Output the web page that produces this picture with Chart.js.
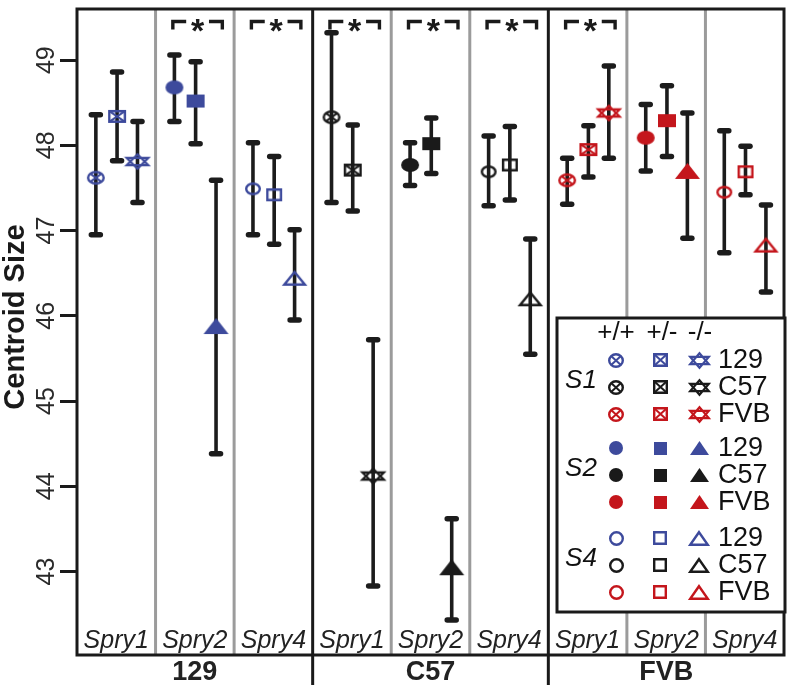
<!DOCTYPE html>
<html><head><meta charset="utf-8">
<script src="https://cdn.jsdelivr.net/npm/chart.js@4.4.1/dist/chart.umd.min.js"></script>
<style>html,body{margin:0;padding:0;background:#fff}#wrap{width:793px;height:685px;position:relative}canvas{display:block}</style>
</head><body><div id="wrap"><canvas id="c" width="793" height="685"></canvas></div>
<script>
// ---- data ----
const strains = ['129', 'C57', 'FVB'];
const genes = ['Spry1', 'Spry2', 'Spry4'];
const genotypes = ['+/+', '+/-', '-/-'];
const geneTags = ['S1', 'S2', 'S4'];
const yTicks = [43, 44, 45, 46, 47, 48, 49];
// order: Spry1 (+/+, +/-, -/-), Spry2 (...), Spry4 (...)
const mean129  = [47.62, 48.34, 47.81, 48.68, 48.52, 45.88, 47.49, 47.42, 46.44];
const upper129 = [48.36, 48.86, 48.28, 49.06, 48.98, 47.59, 48.03, 47.87, 47.01];
const lower129 = [46.95, 47.82, 47.33, 48.28, 48.02, 44.38, 46.95, 46.84, 45.95];
const meanC57  = [48.33, 47.71, 44.12, 47.77, 48.02, 43.05, 47.69, 47.77, 46.20];
const upperC57 = [49.32, 48.24, 45.72, 48.03, 48.32, 43.62, 48.11, 48.22, 46.90];
const lowerC57 = [47.33, 47.23, 42.83, 47.53, 47.67, 42.43, 47.29, 47.36, 45.55];
const meanFVB  = [47.59, 47.95, 48.38, 48.09, 48.29, 47.70, 47.45, 47.69, 46.83];
const upperFVB = [47.85, 48.23, 48.93, 48.48, 48.70, 48.38, 48.17, 47.99, 47.30];
const lowerFVB = [47.31, 47.63, 47.85, 47.70, 47.87, 46.91, 46.74, 47.42, 46.28];
const sigPanels = [1, 2, 3, 4, 5, 6];

// ---- styles ----
const FONT = "'Liberation Sans', Arial, Helvetica, sans-serif";
const colors = ['#3d4a9c', '#1a1a1a', '#c4161c'];
const shapesByGene = [['xcircle', 'xsquare', 'star'], ['fcircle', 'fsquare', 'ftri'], ['ocircle', 'osquare', 'otri']];
const plotSize = {xcircle:[18,14], xsquare:[18,13], star:[24,17], fcircle:[18,14], fsquare:[18,13], ftri:[25,16], ocircle:[16,13], osquare:[16,13], otri:[23,15]};
const legSize  = {xcircle:[16,15], xsquare:[15,14], star:[21,17], fcircle:[14,14], fsquare:[13,13], ftri:[19,14], ocircle:[15,15], osquare:[14,14], otri:[20,15]};
const offsets = [0.24, 0.51, 0.77];

function makeMarker(shape, color, w, h) {
  const pad = 2, lw = 2.4;
  const c = document.createElement('canvas');
  c.width = Math.round(w + 2 * pad); c.height = Math.round(h + 2 * pad);
  const g = c.getContext('2d');
  g.strokeStyle = color; g.fillStyle = color; g.lineWidth = lw; g.lineJoin = 'miter';
  const cx = c.width / 2, cy = c.height / 2, rx = w / 2, ry = h / 2;
  const ix = rx - lw / 2, iy = ry - lw / 2;
  g.beginPath();
  switch (shape) {
    case 'fcircle': g.ellipse(cx, cy, rx, ry, 0, 0, Math.PI * 2); g.fill(); break;
    case 'ocircle': g.ellipse(cx, cy, ix, iy, 0, 0, Math.PI * 2); g.stroke(); break;
    case 'fsquare': g.rect(cx - rx, cy - ry, w, h); g.fill(); break;
    case 'osquare': g.rect(cx - ix, cy - iy, 2 * ix, 2 * iy); g.stroke(); break;
    case 'ftri': g.moveTo(cx, cy - ry); g.lineTo(cx + rx, cy + ry); g.lineTo(cx - rx, cy + ry); g.closePath(); g.fill(); break;
    case 'otri': g.moveTo(cx, cy - iy); g.lineTo(cx + ix, cy + iy); g.lineTo(cx - ix, cy + iy); g.closePath(); g.stroke(); break;
    case 'xcircle':
      g.ellipse(cx, cy, ix, iy, 0, 0, Math.PI * 2); g.stroke();
      g.beginPath(); g.lineWidth = 2;
      g.moveTo(cx - ix * 0.72, cy - iy * 0.72); g.lineTo(cx + ix * 0.72, cy + iy * 0.72);
      g.moveTo(cx + ix * 0.72, cy - iy * 0.72); g.lineTo(cx - ix * 0.72, cy + iy * 0.72); g.stroke(); break;
    case 'xsquare':
      g.rect(cx - ix, cy - iy, 2 * ix, 2 * iy); g.stroke();
      g.beginPath(); g.lineWidth = 2;
      g.moveTo(cx - ix, cy - iy); g.lineTo(cx + ix, cy + iy);
      g.moveTo(cx + ix, cy - iy); g.lineTo(cx - ix, cy + iy); g.stroke(); break;
    case 'star':
      g.lineWidth = 2.2;
      g.moveTo(cx, cy - iy); g.lineTo(cx + ix, cy + iy * 0.5); g.lineTo(cx - ix, cy + iy * 0.5); g.closePath();
      g.moveTo(cx, cy + iy); g.lineTo(cx + ix, cy - iy * 0.5); g.lineTo(cx - ix, cy - iy * 0.5); g.closePath();
      g.stroke(); break;
  }
  return c;
}

const plotMarkers = colors.map(col => shapesByGene.map(row => row.map(s => makeMarker(s, col, plotSize[s][0], plotSize[s][1]))));
const legMarkers  = colors.map(col => shapesByGene.map(row => row.map(s => makeMarker(s, col, legSize[s][0], legSize[s][1]))));

function buildDataset(si, means, ups, lows) {
  const data = [], styles = [];
  for (let g = 0; g < 3; g++) for (let k = 0; k < 3; k++) {
    const i = g * 3 + k;
    data.push({x: si * 3 + g + offsets[k], y: means[i], hi: ups[i], lo: lows[i]});
    styles.push(plotMarkers[si][g][k]);
  }
  return {label: strains[si], data, pointStyle: styles, pointRadius: 8, backgroundColor: colors[si], borderColor: colors[si]};
}

// ---- plugins ----
function line(ctx, x1, y1, x2, y2) { ctx.beginPath(); ctx.moveTo(x1, y1); ctx.lineTo(x2, y2); ctx.stroke(); }

const panelsPlugin = {
  id: 'panels',
  beforeDatasetsDraw(chart) {
    const {ctx, chartArea: a, scales: {x, y}} = chart;
    ctx.save();
    ctx.strokeStyle = '#9b9b9b'; ctx.lineWidth = 3;
    for (let p = 1; p < 9; p++) { if (p % 3 === 0) continue; const px = x.getPixelForValue(p); line(ctx, px, a.top, px, a.bottom); }
    ctx.strokeStyle = '#1a1a1a'; ctx.lineWidth = 3;
    [3, 6].forEach(p => { const px = x.getPixelForValue(p); line(ctx, px, a.top, px, chart.height); });
    ctx.strokeRect(a.left, a.top, a.right - a.left, a.bottom - a.top);
    // significance brackets
    ctx.lineWidth = 3.4; ctx.lineCap = 'butt';
    const by = a.top + 12.5, bd = a.top + 20.5;
    ctx.fillStyle = '#1a1a1a';
    sigPanels.forEach(p => {
      const l0 = x.getPixelForValue(p + 0.22), l1 = x.getPixelForValue(p + 0.39);
      const r0 = x.getPixelForValue(p + 0.68), r1 = x.getPixelForValue(p + 0.85);
      ctx.beginPath(); ctx.moveTo(l0, bd); ctx.lineTo(l0, by); ctx.lineTo(l1, by); ctx.stroke();
      ctx.beginPath(); ctx.moveTo(r0, by); ctx.lineTo(r1, by); ctx.lineTo(r1, bd); ctx.stroke();
      ctx.font = 'bold 34px ' + FONT; ctx.textAlign = 'center'; ctx.textBaseline = 'alphabetic';
      ctx.fillText('*', x.getPixelForValue(p + 0.535), a.top + 33);
    });
    // gene labels inside panels
    ctx.fillStyle = '#222'; ctx.font = 'italic 25px ' + FONT; ctx.textAlign = 'center'; ctx.textBaseline = 'alphabetic';
    for (let p = 0; p < 9; p++) ctx.fillText(genes[p % 3], x.getPixelForValue(p + 0.5), a.bottom - 7);
    // strain labels below axis
    ctx.font = 'bold 27px ' + FONT; ctx.textBaseline = 'middle';
    strains.forEach((s, i) => ctx.fillText(s, x.getPixelForValue(i * 3 + 1.5), a.bottom + 18));
    // y tick labels (rotated)
    ctx.fillStyle = '#2a2a2a'; ctx.font = '25px ' + FONT;
    yTicks.forEach(v => {
      ctx.save(); ctx.translate(46, y.getPixelForValue(v)); ctx.rotate(-Math.PI / 2);
      ctx.textAlign = 'center'; ctx.textBaseline = 'middle'; ctx.fillText(String(v), 0, 1); ctx.restore();
    });
    // axis title
    ctx.save(); ctx.translate(15, 317); ctx.rotate(-Math.PI / 2);
    ctx.fillStyle = '#1a1a1a'; ctx.font = 'bold 29px ' + FONT; ctx.textAlign = 'center'; ctx.textBaseline = 'middle';
    ctx.fillText('Centroid Size', 0, 1); ctx.restore();
    ctx.restore();
  }
};

const errorBarsPlugin = {
  id: 'errorBars',
  beforeDatasetsDraw(chart) {
    const {ctx, scales: {x, y}} = chart;
    ctx.save(); ctx.strokeStyle = '#1c1c1c';
    chart.data.datasets.forEach(ds => ds.data.forEach(p => {
      const px = x.getPixelForValue(p.x), y1 = y.getPixelForValue(p.hi), y2 = y.getPixelForValue(p.lo);
      ctx.lineWidth = 3.6; ctx.lineCap = 'butt'; line(ctx, px, y1, px, y2);
      ctx.lineWidth = 5.5; ctx.lineCap = 'round'; line(ctx, px - 4.5, y1, px + 4.5, y1); line(ctx, px - 4.5, y2, px + 4.5, y2);
    }));
    ctx.restore();
  }
};

const legendPlugin = {
  id: 'customLegend',
  afterDatasetsDraw(chart) {
    const {ctx} = chart;
    const L = 557, T = 318, R = 785, B = 612;
    ctx.save();
    ctx.fillStyle = '#fff'; ctx.fillRect(L, T, R - L, B - T);
    ctx.strokeStyle = '#1a1a1a'; ctx.lineWidth = 3; ctx.strokeRect(L, T, R - L, B - T);
    const colX = [616, 660, 699];
    ctx.fillStyle = '#111'; ctx.font = '26px ' + FONT; ctx.textAlign = 'center'; ctx.textBaseline = 'middle';
    genotypes.forEach((g, k) => ctx.fillText(g, [616, 662, 700][k], 333));
    const groupTop = [360, 448, 538];
    geneTags.forEach((tag, g) => {
      for (let s = 0; s < 3; s++) {
        const cy = groupTop[g] + s * 27;
        for (let k = 0; k < 3; k++) {
          const m = legMarkers[s][g][k];
          ctx.drawImage(m, Math.round(colX[k] - m.width / 2), Math.round(cy - m.height / 2));
        }
        ctx.fillStyle = '#111'; ctx.font = '27px ' + FONT; ctx.textAlign = 'left'; ctx.textBaseline = 'middle';
        ctx.fillText(strains[s], 718, cy + 1);
      }
      ctx.font = 'italic 26px ' + FONT; ctx.textAlign = 'center';
      ctx.fillText(tag, 581, groupTop[g] + 27 - 6);
    });
    ctx.restore();
  }
};

new Chart(document.getElementById('c'), {
  type: 'scatter',
  data: {datasets: [buildDataset(0, mean129, upper129, lower129), buildDataset(1, meanC57, upperC57, lowerC57), buildDataset(2, meanFVB, upperFVB, lowerFVB)]},
  options: {
    responsive: false, animation: false, devicePixelRatio: 1,
    layout: {padding: {top: 3, right: 5, bottom: 30, left: 0}},
    plugins: {legend: {display: false}, tooltip: {enabled: false}},
    scales: {
      x: {type: 'linear', min: 0, max: 9, display: false},
      y: {
        type: 'linear', min: 42.02, max: 49.6,
        afterFit(s) { s.width = 77; },
        afterBuildTicks(s) { s.ticks = yTicks.map(v => ({value: v})); },
        ticks: {display: false},
        grid: {drawOnChartArea: false, drawTicks: true, tickLength: 17, tickWidth: 3, color: '#1a1a1a'},
        border: {display: false}
      }
    }
  },
  plugins: [panelsPlugin, errorBarsPlugin, legendPlugin]
});
</script></body></html>
